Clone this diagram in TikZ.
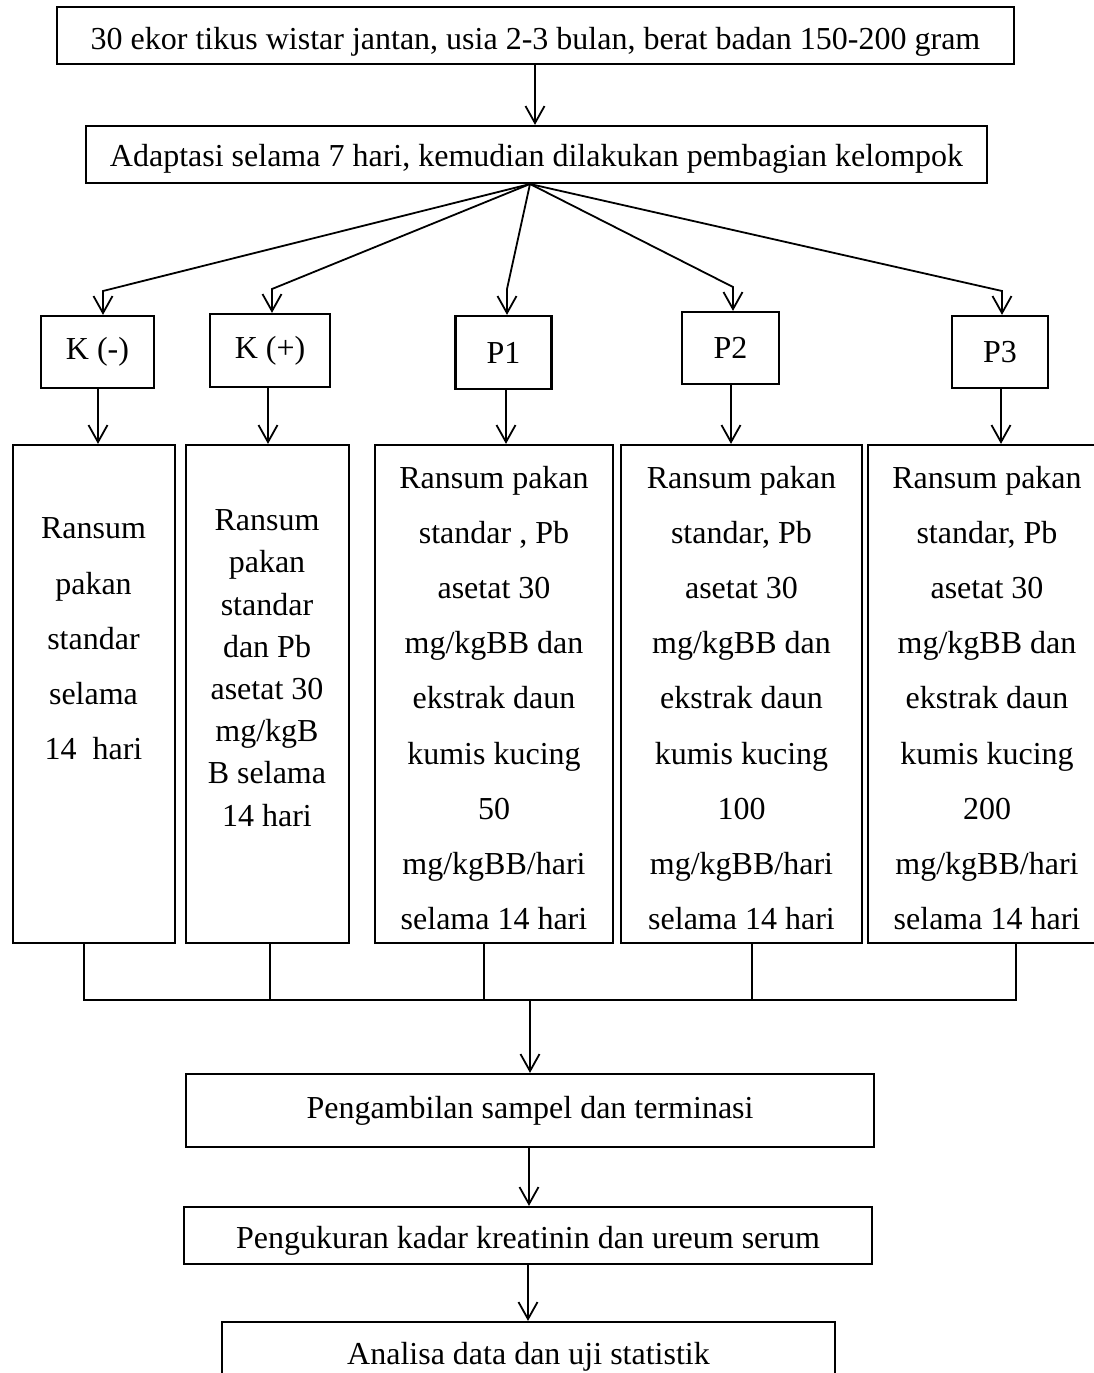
\documentclass[tikz,border=0pt]{standalone}
\usepackage{fontspec}
\setmainfont{Liberation Serif}
\usetikzlibrary{arrows.meta}
\begin{document}
\begin{tikzpicture}[x=1pt,y=-1pt,
  box/.style={draw, line width=2.2pt, inner sep=0pt, font=\fontsize{32}{38}\selectfont},
  conn/.style={line width=1.8pt},
  arr/.style={conn, -{Straight Barb[length=17pt,width=19pt,line width=1.8pt]}},
  tallA/.style={align=center, inner sep=0pt, font=\fontsize{32}{55.2}\selectfont},
  tallB/.style={align=center, inner sep=0pt, font=\fontsize{32}{42.2}\selectfont}]
\useasboundingbox (0,0) rectangle (1094,1373);
% top boxes
\node[box, minimum width=957pt, minimum height=57pt, text height=28.8pt, text depth=0pt] (top) at (535.5,35.5) {30 ekor tikus wistar jantan, usia 2-3 bulan, berat badan 150-200 gram};
\node[box, minimum width=901pt, minimum height=57pt, text height=24.4pt, text depth=0pt] (adapt) at (536.5,154.5) {Adaptasi selama 7 hari, kemudian dilakukan pembagian kelompok};
\draw[arr] (top.south -| 535,0) -- (adapt.north -| 535,0);
% group boxes
\node[box, minimum width=113pt, minimum height=72pt] (km) at (97.5,352) {K (-)};
\node[box, minimum width=120pt, minimum height=73pt] (kp) at (270,350.5) {K (+)};
\node[box, minimum width=96pt, minimum height=73pt] (p1) at (503.5,352.5) {P1};
\node[box, minimum width=97pt, minimum height=72pt] (p2) at (730.5,348) {P2};
\node[box, minimum width=96pt, minimum height=72pt] (p3) at (1000,352) {P3};
% fan
\coordinate (fan) at (530,184);
\coordinate (b1) at (103,291);
\coordinate (b2) at (272,289);
\coordinate (b3) at (507,289);
\coordinate (b4) at (733,287);
\coordinate (b5) at (1002,291);
\draw[arr] (fan) -- (b1) -- (b1 |- km.north);
\draw[arr] (fan) -- (b2) -- (b2 |- kp.north);
\draw[arr] (fan) -- (b3) -- (b3 |- p1.north);
\draw[arr] (fan) -- (b4) -- (b4 |- p2.north);
\draw[arr] (fan) -- (b5) -- (b5 |- p3.north);
% tall boxes
\node[box, minimum width=162pt, minimum height=498pt] (tm) at (94,694) {};
\node[box, minimum width=163pt, minimum height=498pt] (tp) at (267.5,694) {};
\node[box, minimum width=238pt, minimum height=498pt] (t1) at (494,694) {};
\node[box, minimum width=241pt, minimum height=498pt] (t2) at (741.5,694) {};
\node[box, minimum width=237pt, minimum height=498pt] (t3) at (986.5,694) {};
\node[tallA] (tmt) at (93.5,639) {Ransum\\pakan\\standar\\selama\\14\ \ hari};
\node[tallB] (tpt) at (267,668) {Ransum\\pakan\\standar\\dan Pb\\asetat 30\\mg/kgB\\B selama\\14 hari};
\node[tallA] (t1t) at (494,698) {Ransum pakan\\standar , Pb\\asetat 30\\mg/kgBB dan\\ekstrak daun\\kumis kucing\\50\\mg/kgBB/hari\\selama 14 hari};
\node[tallA] (t2t) at (741.5,698) {Ransum pakan\\standar, Pb\\asetat 30\\mg/kgBB dan\\ekstrak daun\\kumis kucing\\100\\mg/kgBB/hari\\selama 14 hari};
\node[tallA] (t3t) at (987,698) {Ransum pakan\\standar, Pb\\asetat 30\\mg/kgBB dan\\ekstrak daun\\kumis kucing\\200\\mg/kgBB/hari\\selama 14 hari};
% arrows group -> tall
\draw[arr] (km.south -| 98,0) -- (tm.north -| 98,0);
\draw[arr] (kp.south -| 268,0) -- (tp.north -| 268,0);
\draw[arr] (p1.south -| 506,0) -- (t1.north -| 506,0);
\draw[arr] (p2.south -| 731,0) -- (t2.north -| 731,0);
\draw[arr] (p3.south -| 1001,0) -- (t3.north -| 1001,0);
% merge
\coordinate (j0) at (84,1000);
\coordinate (j1) at (270,1000);
\coordinate (j2) at (484,1000);
\coordinate (j3) at (752,1000);
\coordinate (j4) at (1016,1000);
\coordinate (jc) at (530,1000);
\draw[conn] (tm.south -| j0) -- (j0) -- (j4) -- (t3.south -| j4);
\draw[conn] (tp.south -| j1) -- (j1);
\draw[conn] (t1.south -| j2) -- (j2);
\draw[conn] (t2.south -| j3) -- (j3);
% bottom boxes
\node[box, minimum width=688pt, minimum height=73pt] (samp) at (530,1110.5) {Pengambilan sampel dan terminasi};
\node[box, minimum width=688pt, minimum height=57pt, text height=25pt, text depth=0pt] (ukur) at (528,1235.5) {Pengukuran kadar kreatinin dan ureum serum};
\node[box, minimum width=613pt, minimum height=70pt] (anal) at (528.5,1357) {Analisa data dan uji statistik};
\draw[arr] (jc) -- (jc |- samp.north);
\draw[arr] (samp.south -| 529,0) -- (ukur.north -| 529,0);
\draw[arr] (ukur.south -| 528,0) -- (anal.north -| 528,0);
\end{tikzpicture}
\end{document}
